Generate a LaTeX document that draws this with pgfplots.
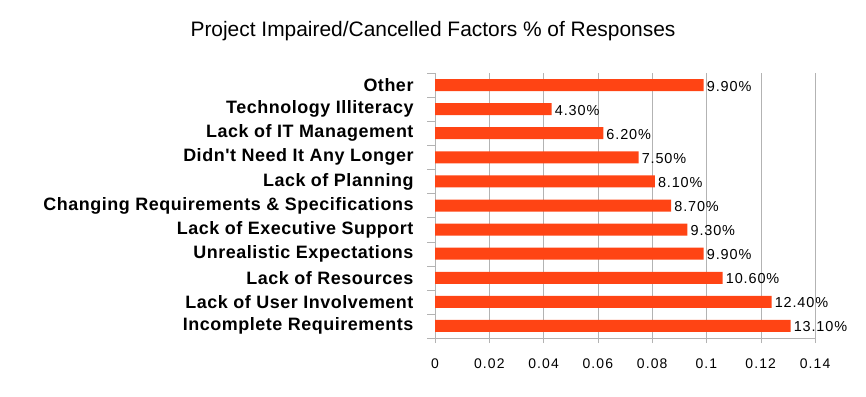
\documentclass[border=0pt]{standalone}
\usepackage{pgfplots}
\pgfplotsset{compat=1.18}
\usepackage{fontspec}
\setmainfont{Liberation Sans}
\newfontfamily\lblfont[LetterSpace=3]{Liberation Sans}
\newfontfamily\numfont[LetterSpace=8]{Liberation Sans}
\newfontfamily\valfont[LetterSpace=6]{Liberation Sans}
\definecolor{barc}{RGB}{255,68,20}
\definecolor{gridc}{RGB}{179,179,179}
\begin{document}
\begin{tikzpicture}[x=1bp,y=1bp]
\useasboundingbox (0,0) rectangle (866,396);
\node[font=\fontsize{21}{23}\selectfont] at (433,365) {Project Impaired/Cancelled Factors \% of Responses};
\begin{axis}[
  at={(435bp,58bp)}, anchor=south west,
  scale only axis, width=380bp, height=265bp,
  xbar, bar width=12bp,
  xmin=0, xmax=0.14,
  ymin=-0.5, ymax=10.5,
  xtick={0,0.02,...,0.14},
  xticklabels={0,0.02,0.04,0.06,0.08,0.1,0.12,0.14},
  ytick={0,...,10},
  yticklabels={Incomplete Requirements,Lack of User Involvement,Lack of Resources,Unrealistic Expectations,Lack of Executive Support,Changing Requirements \& Specifications,Lack of Planning,Didn\symbol{39}t Need It Any Longer,Lack of IT Management,Technology Illiteracy,Other},
  major tick length=0pt,
  ytick style={draw=none},
  xtick style={draw=none},
  axis line style={draw=gridc},
  axis x line*=bottom, axis y line*=left,
  xmajorgrids, grid style={gridc},
  yticklabel style={font=\lblfont\fontsize{18}{20}\selectfont\bfseries, xshift=-18bp},
  xticklabel style={font=\numfont\fontsize{14}{16}\selectfont, yshift=-17bp},
  point meta={x*100},
  /pgf/number format/assume math mode=true,
  nodes near coords={\pgfmathprintnumber[fixed,fixed zerofill,precision=2]{\pgfplotspointmeta}\%},
  nodes near coords style={font=\valfont\fontsize{14.5}{16}\selectfont, anchor=west, inner sep=1bp, xshift=2bp, yshift=-1bp},
  clip=false,
]
\addplot[fill=barc, draw=none] coordinates {
(0.131,0) (0.124,1) (0.106,2) (0.099,3) (0.093,4) (0.087,5) (0.081,6) (0.075,7) (0.062,8) (0.043,9) (0.099,10)};
\end{axis}
\begin{axis}[
  at={(435bp,58bp)}, anchor=south west,
  scale only axis, width=380bp, height=265bp,
  xmin=0, xmax=0.14, ymin=-0.5, ymax=10.5,
  axis x line*=bottom, axis y line*=left, axis line style={draw=none},
  xtick=\empty, ytick={-0.5,0.5,...,10.5}, yticklabels={},
  tick align=outside, major tick length=8bp, ytick style={draw=gridc},
]
\end{axis}
\begin{axis}[
  at={(435bp,58bp)}, anchor=south west,
  scale only axis, width=380bp, height=265bp,
  xmin=0, xmax=0.14, ymin=-0.5, ymax=10.5,
  axis x line*=bottom, axis y line*=left, axis line style={draw=none},
  ytick=\empty, xtick={0,0.02,...,0.14}, xticklabels={},
  tick align=outside, major tick length=5bp, xtick style={draw=gridc},
]
\end{axis}
\end{tikzpicture}
\end{document}
